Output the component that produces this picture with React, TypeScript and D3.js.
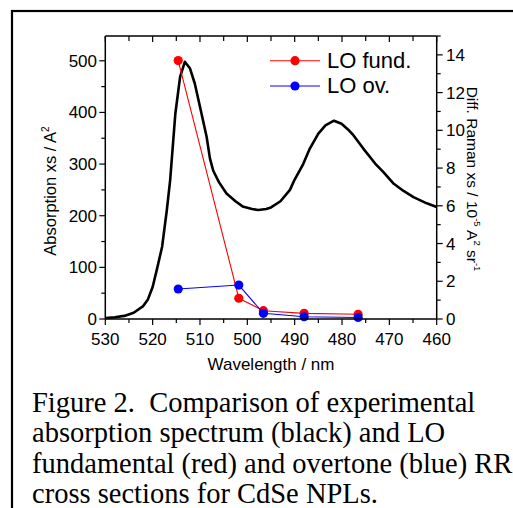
import React from "react";
import * as d3 from "d3";

const absWavelength = [530, 528, 526, 524, 522, 521, 520, 519, 518, 517, 516.3, 515.2, 514.2, 513.2, 512.1, 511.1, 510, 508.6, 507.9, 507.2, 506, 504.4, 502.5, 501, 499, 497.7, 496, 495, 493, 491, 490, 488.2, 486.8, 485, 483.5, 481.7, 480.1, 478.5, 477.6, 475.5, 473, 471.3, 469.2, 467, 464.9, 462.1, 460];
const absValue = [2, 3.5, 6, 12, 25, 38, 62, 100, 140, 211, 269, 398, 469, 498, 485, 456, 411, 353, 311, 287, 265, 243, 228, 218, 213, 211, 213, 216, 228, 250, 270, 300, 330, 359, 375, 384, 378, 365, 356, 330, 301, 285, 263, 248, 236, 224, 217];

const ramanWavelength = [514.6, 501.8, 496.6, 488, 476.6];
const loFund = [13.7, 1.1, 0.44, 0.3, 0.25];
const loOv = [1.59, 1.8, 0.3, 0.12, 0.08];

const xTicks = [530, 520, 510, 500, 490, 480, 470, 460];
const yLeftTicks = [0, 100, 200, 300, 400, 500];
const yRightTicks = [0, 2, 4, 6, 8, 10, 12, 14];

const captionLines = [
  "Figure 2.  Comparison of experimental",
  "absorption spectrum (black) and LO",
  "fundamental (red) and overtone (blue) RR",
  "cross sections for CdSe NPLs.",
];

const L = 105.3, R = 436.7, T = 36, B = 319;
const sans = "'Liberation Sans', Arial, sans-serif";

export default function App() {
  const x = d3.scaleLinear().domain([530, 460]).range([L, R]);
  const yL = d3.scaleLinear().domain([0, 548]).range([B, T]);
  const yR = d3.scaleLinear().domain([0, 15]).range([B, T]);

  const absLine = d3.line<number>().x((_, i) => x(absWavelength[i])).y((d) => yL(d));
  const ramanLine = d3.line<number>().x((_, i) => x(ramanWavelength[i])).y((d) => yR(d));

  const xMinor = d3.range(530, 459, -5);
  const yLMinor = d3.range(0, 548, 50);
  const yRMinor = d3.range(0, 15.01, 1);

  return (
    <svg width={513} height={508} style={{ position: "absolute", left: 0, top: 0, background: "#fff" }}>
      <rect x={12} y={11} width={540} height={540} fill="none" stroke="#000" strokeWidth={2.2} />

      {/* absorption curve */}
      <path d={absLine(absValue) || ""} fill="none" stroke="#000" strokeWidth={2.6} strokeLinejoin="round" />

      {/* LO fund */}
      <path d={ramanLine(loFund) || ""} fill="none" stroke="#ff0000" strokeWidth={1.1} />
      {loFund.map((v, i) => (
        <circle key={"r" + i} cx={x(ramanWavelength[i])} cy={yR(v)} r={4.6} fill="#ff0000" />
      ))}
      {/* LO ov */}
      <path d={ramanLine(loOv) || ""} fill="none" stroke="#0000ff" strokeWidth={1.1} />
      {loOv.map((v, i) => (
        <circle key={"b" + i} cx={x(ramanWavelength[i])} cy={yR(v)} r={4.6} fill="#0000ff" />
      ))}

      {/* axes frame */}
      <line x1={L} x2={R} y1={B} y2={B} stroke="#000" strokeWidth={1.5} />
      <line x1={L} x2={R} y1={T} y2={T} stroke="#000" strokeWidth={1.5} />
      <line x1={L} x2={L} y1={T} y2={B} stroke="#000" strokeWidth={1.5} />
      <line x1={R} x2={R} y1={T} y2={B} stroke="#000" strokeWidth={1.5} />

      {/* x ticks */}
      {xMinor.map((t) => {
        const major = t % 10 === 0;
        return (
          <g key={"x" + t}>
            <line x1={x(t)} x2={x(t)} y1={B} y2={B + (major ? 6 : 4)} stroke="#000" strokeWidth={1.2} />
            <line x1={x(t)} x2={x(t)} y1={T} y2={T + (major ? 6 : 5)} stroke="#000" strokeWidth={1.2} />
          </g>
        );
      })}
      {xTicks.map((t) => (
        <text key={"xl" + t} x={x(t)} y={345} textAnchor="middle" fontFamily={sans} fontSize={17}>
          {t}
        </text>
      ))}

      {/* left ticks */}
      {yLMinor.map((t) => (
        <line key={"yl" + t} x1={L - (t % 100 === 0 ? 6 : 4)} x2={L} y1={yL(t)} y2={yL(t)} stroke="#000" strokeWidth={1.2} />
      ))}
      {yLeftTicks.map((t) => (
        <text key={"yll" + t} x={97} y={yL(t) + 6} textAnchor="end" fontFamily={sans} fontSize={17}>
          {t}
        </text>
      ))}

      {/* right ticks */}
      {yRMinor.map((t) => (
        <line key={"yr" + t} x1={R} x2={R + (t % 2 === 0 ? 6 : 4)} y1={yR(t)} y2={yR(t)} stroke="#000" strokeWidth={1.2} />
      ))}
      {yRightTicks.map((t) => (
        <text key={"yrl" + t} x={446} y={yR(t) + 6} textAnchor="start" fontFamily={sans} fontSize={17}>
          {t}
        </text>
      ))}

      {/* axis titles */}
      <text x={(L + R) / 2} y={370} textAnchor="middle" fontFamily={sans} fontSize={17}>
        Wavelength / nm
      </text>
      <text transform="translate(56,191) rotate(-90)" textAnchor="middle" fontFamily={sans} fontSize={16.5}>
        Absorption xs / A
        <tspan fontSize={10} dy={-7}>2</tspan>
      </text>
      <text transform="translate(467,179) rotate(90)" textAnchor="middle" fontFamily={sans} fontSize={15.5}>
        Diff. Raman xs / 10
        <tspan fontSize={9.5} dy={-7}>-5</tspan>
        <tspan dy={7}> A</tspan>
        <tspan fontSize={9.5} dy={-7}>2</tspan>
        <tspan dy={7}> sr</tspan>
        <tspan fontSize={9.5} dy={-7}>-1</tspan>
      </text>

      {/* legend */}
      <line x1={270} x2={320} y1={60.7} y2={60.7} stroke="#ff0000" strokeWidth={1.1} />
      <circle cx={295} cy={60.7} r={4.6} fill="#ff0000" />
      <text x={327} y={67.5} fontFamily={sans} fontSize={22}>LO fund.</text>
      <line x1={270} x2={320} y1={86} y2={86} stroke="#0000ff" strokeWidth={1.1} />
      <circle cx={295} cy={86} r={4.6} fill="#0000ff" />
      <text x={327} y={93} fontFamily={sans} fontSize={22}>LO ov.</text>

      {/* caption */}
      {captionLines.map((s, i) => (
        <text
          key={"c" + i}
          x={32}
          y={411.5 + i * 30.5}
          fontFamily="'Liberation Serif', 'Times New Roman', serif"
          fontSize={28.5}
          style={{ whiteSpace: "pre" }}
        >
          {s}
        </text>
      ))}
    </svg>
  );
}
